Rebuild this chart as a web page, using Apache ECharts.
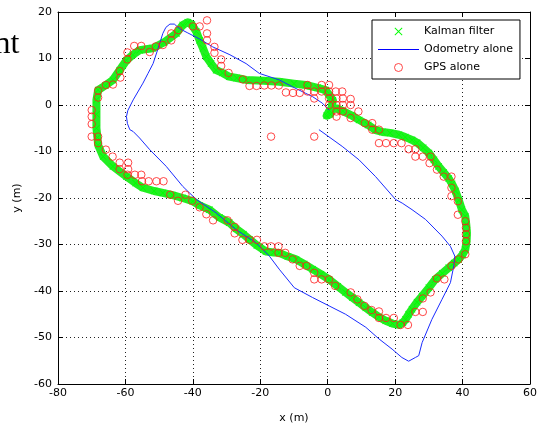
<!DOCTYPE html>
<html>
<head>
<meta charset="utf-8">
<script src="https://cdn.jsdelivr.net/npm/echarts@6/dist/echarts.min.js"></script>
<style>
html,body{margin:0;padding:0;background:#fff;}
#chart{width:540px;height:429px;}
</style>
</head>
<body>
<div id="chart"></div>
<script>
// ---- Data ----
const xTicks = [-80, -60, -40, -20, 0, 20, 40, 60];
const yTicks = [-60, -50, -40, -30, -20, -10, 0, 10, 20];
const seriesNames = ['Kalman filter', 'Odometry alone', 'GPS alone'];

const kalmanPath = [
  [1.5,1.0],[-0.6,3.2],[-3,3.7],[-6.5,4.3],[-10,4.6],[-14.4,5.0],[-19,5.2],[-24.2,5.4],
  [-27,5.8],[-29.2,6.1],[-31.2,6.9],[-33.1,7.5],[-34.6,8.9],[-36,10.4],[-37,12.2],[-38,13.9],
  [-39,15.8],[-40.3,17.3],[-41.5,17.8],[-43,17.2],[-44.9,15.4],[-48.5,13.5],[-51.9,12.2],
  [-55.8,11.8],[-57.8,10.8],[-59.7,9.6],[-61.7,7.5],[-63.7,5.4],[-66,4.2],[-68.1,3.2],
  [-68.6,1.1],[-68.6,-2],[-68.6,-5],[-68.3,-7],[-68.1,-8.6],[-66.6,-11.1],[-63.7,-13.2],
  [-59.7,-15.4],[-57,-16.8],[-54.8,-17.8],[-51.5,-18.5],[-48.9,-18.9],[-46,-19.4],[-43,-20.0],
  [-40,-20.7],[-38,-21.6],[-35.1,-22.5],[-32.1,-24.2],[-29.2,-25.3],[-27.2,-26.6],[-25,-27.8],
  [-23.2,-28.9],[-21,-30.2],[-18.3,-31.5],[-16,-31.7],[-14.4,-31.8],[-11.8,-32.6],[-9.4,-33.2],
  [-7,-34.2],[-4.5,-35.3],[-2,-36.4],[0.4,-37.5],[3,-39],[5.3,-40.3],[7.3,-41.4],[9.3,-42.5],
  [11.3,-43.6],[13.2,-44.6],[15.2,-45.6],[17.2,-46.4],[19.2,-47.0],[21.1,-47.3],[22.3,-46.8],
  [23.1,-46.1],[24,-45],[25,-43.9],[26.5,-42.4],[28,-41.1],[30,-39.3],[31.9,-37.5],[34,-36.2],
  [35.9,-35.0],[37.5,-34.0],[38.8,-33.2],[40,-32.2],[40.8,-31.1],[41.2,-29.3],[41.3,-27.5],
  [41.1,-25.7],[40.8,-23.9],[39.8,-22.5],[38.9,-20.5],[37.9,-18.5],[36.9,-17],[35.9,-15.8],
  [34.4,-14.5],[32.9,-13.2],[31.5,-11.8],[30,-10.3],[28.3,-9.2],[26.5,-8.1],[25,-7.5],
  [23,-6.9],[21.1,-6.4],[18.5,-6.0],[16.2,-5.8],[14.2,-5.4],[12,-4.3],[9.3,-3.2],[7,-2.2],
  [4.5,-1.3],[2.5,-0.7],[0.5,-1.2],[-0.3,-2.3],[0.8,-2.0],[1.5,1.0]
];

const odometryPath = [
  [0.4,-1.1],[-1.6,0.4],[-4.5,1.8],[-6.5,2.5],[-10.4,3.9],[-14.4,5.4],[-20.3,6.8],[-24.2,8.9],
  [-29,10.8],[-34.1,12.5],[-38,14.2],[-41.5,15.5],[-43.9,16.4],[-45.5,17.4],[-46.8,17.4],
  [-48,16.7],[-48.9,15.4],[-50.3,12.2],[-51.8,8.9],[-53.3,6.8],[-54.8,4.7],[-57.7,1.1],
  [-59.3,-1.2],[-59.7,-2.5],[-59.4,-4],[-58.7,-5.3],[-57.7,-5.7],[-55.8,-7.1],[-52.8,-9.6],
  [-47.9,-13.2],[-43,-17.5],[-39,-20.3],[-33.1,-23.2],[-27.2,-26.8],[-21.3,-29.6],[-17.3,-32.5],
  [-14.4,-35.3],[-9.9,-39.3],[-4.5,-41.4],[0.4,-43.2],[5.3,-45],[11.3,-47.8],[15.2,-50.3],
  [19.1,-52.5],[22,-54.3],[24,-55.1],[26,-54.3],[27,-53.9],[28,-51.1],[30.9,-46.1],[33.9,-41.8],
  [36.4,-38.2],[37.4,-34.6],[37.7,-32.5],[36.4,-30.4],[33.9,-28.2],[29,-24.6],[25,-22.5],
  [22.1,-21.1],[20.1,-20.3],[14.2,-15.4],[9.3,-11.8],[4.3,-8.9],[-2.6,-5.3]
];

const gpsPoints = [
  [-46.4,15.4],[-44.3,16.1],[-46.4,13.9],[-48.9,12.9],[-51.0,12.6],[-52.8,11.4],[-55.3,12.7],
  [-57.4,12.7],[-59.4,11.3],[-59.4,9.8],[-61.7,7.3],[-61.5,5.9],[-63.7,4.4],[-65.8,4.3],
  [-68.1,3.1],[-68.1,1.6],[-70,-1.1],[-70,-2.5],[-70,-4.1],[-70,-6.8],[-68.1,-6.8],[-68.1,-8.2],
  [-65.8,-9.6],[-63.8,-11.1],[-61.7,-12.4],[-59.2,-12.4],[-61.7,-13.8],[-59.2,-13.8],[-59.4,-15],
  [-57.2,-15],[-55.3,-15],[-55.1,-16.4],[-53.1,-16.4],[-50.8,-16.4],[-48.7,-16.4],[-46.7,-19.3],
  [-44.4,-20.6],[-42.2,-19.3],[-40.2,-20.6],[-38,-22],[-36,-23.5],[-34,-24.8],[-29.7,-24.8],
  [-27.6,-26.2],[-27.6,-27.6],[-25.3,-29],[-23.2,-29],[-21,-29],[-18.8,-30.4],[-16.8,-30.4],
  [-14.6,-30.4],[-14.6,-31.8],[-12.6,-31.8],[-10.4,-33.2],[-8.3,-34.6],[-6.3,-34.6],[-4,-36.1],
  [-4,-37.5],[-1.8,-37.5],[0.4,-37.5],[2.2,-38.9],[6.8,-40.3],[8.8,-41.8],[10.9,-43.2],[13,-44.1],
  [15.2,-44.4],[15.2,-45.8],[17.3,-45.8],[19.6,-45.8],[21.6,-47.3],[23.8,-47.3],[26,-44.5],
  [28.2,-44.5],[28.2,-41.6],[30.5,-40.3],[32.4,-37.3],[34.6,-37.5],[36.7,-34.6],[38.8,-33.2],
  [40.8,-32.1],[41,-29.3],[41,-27.8],[41,-26.4],[40.8,-25],[38.6,-23.6],[38.6,-20.7],[36.7,-19.6],
  [36.7,-17.8],[36.7,-15.4],[34.4,-15.4],[32.4,-13.9],[30.2,-12.5],[30.5,-11.1],[28.2,-11.1],
  [26,-11.1],[26,-9.5],[24,-9.5],[21.9,-8.2],[19.6,-8.2],[17.3,-8.2],[15.2,-8.2],[15.2,-5.3],
  [13.2,-5.3],[13.2,-3.9],[11,-3.9],[9.1,-1.4],[6.8,-2.8],[6.8,0],[6.8,1.3],[4.5,0],[4.5,-1.4],
  [4.5,1.4],[2.6,1.4],[2.6,0],[2.6,-1.4],[2.6,-2.5],[0.4,1.4],[0.4,0],[0.4,2.9],[0.4,4.3],
  [-1.8,4.3],[-1.8,2.9],[2.4,2.9],[4.3,2.9],[-4,1.4],[-4,2.9],[-6,2.9],[-6,4.3],[-8.3,2.6],
  [-10.3,2.6],[-12.4,2.7],[-14.5,4.2],[-16.7,4.2],[-18.8,4.2],[-21.1,4.1],[-23.2,4.1],
  [-25.2,5.5],[-29.4,6.9],[-31.6,8.4],[-31.6,9.8],[-33.6,11.2],[-33.6,12.5],[-35.8,13.9],
  [-35.8,15.4],[-35.8,18.2],[-38,16.9],[-40,16.9],[-16.8,-6.8],[-4,-6.8]
];

// ---- Chart ----
const FONT = '"DejaVu Sans", "Liberation Sans", Arial, sans-serif';
const X_MARK = 'path://M0,0.8L0.8,0L5,4.2L9.2,0L10,0.8L5.8,5L10,9.2L9.2,10L5,5.8L0.8,10L0,9.2L4.2,5Z';
const LINE_ICON = 'path://M0,0L40,0L40,1L0,1Z';
const GPS_RED = '#ff1a1a';

const chart = echarts.init(document.getElementById('chart'), null, {renderer: 'canvas'});

const xMin = xTicks[0], xMax = xTicks[xTicks.length - 1];
const yMin = yTicks[0], yMax = yTicks[yTicks.length - 1];
const xStep = xTicks[1] - xTicks[0];
const yStep = yTicks[1] - yTicks[0];

const axisCommon = {
  type: 'value',
  axisLine: {show: true, onZero: false, lineStyle: {color: '#000', width: 1}},
  axisTick: {show: true, inside: true, length: 5, lineStyle: {color: '#000'}},
};

const option = {
  backgroundColor: '#fff',
  animation: false,
  grid: {left: 58, right: 8, top: 12, bottom: 43, containLabel: false},
  legend: {
    orient: 'vertical',
    left: 372, top: 20,
    itemWidth: 41, itemHeight: 8, itemGap: 5,
    padding: [5, 7, 5, 6],
    borderColor: '#000', borderWidth: 1, backgroundColor: '#fff',
    selectedMode: false,
    textStyle: {fontFamily: FONT, fontSize: 11, color: '#000', lineHeight: 13},
    data: [
      {name: seriesNames[0], icon: X_MARK},
      {name: seriesNames[1], icon: LINE_ICON},
      {name: seriesNames[2], icon: 'circle',
       itemStyle: {color: '#ffffff', borderColor: GPS_RED, borderWidth: 1}}
    ]
  },
  xAxis: [
    Object.assign({}, axisCommon, {
      min: xMin, max: xMax, interval: xStep, position: 'bottom',
      axisLabel: {fontFamily: FONT, fontSize: 11, color: '#000', margin: 4},
      splitLine: {show: true, lineStyle: {color: '#222', type: [1, 3], width: 1}},
      name: 'x (m)', nameLocation: 'middle', nameGap: 29,
      nameTextStyle: {fontFamily: FONT, fontSize: 11, color: '#000'}
    }),
    Object.assign({}, axisCommon, {
      min: xMin, max: xMax, interval: xStep, position: 'top',
      axisLabel: {show: false}, splitLine: {show: false}
    })
  ],
  yAxis: [
    Object.assign({}, axisCommon, {
      min: yMin, max: yMax, interval: yStep, position: 'left',
      axisLabel: {fontFamily: FONT, fontSize: 11, color: '#000', margin: 6},
      splitLine: {show: true, lineStyle: {color: '#222', type: [1, 3], width: 1}},
      name: 'y (m)', nameLocation: 'middle', nameGap: 34,
      nameTextStyle: {fontFamily: FONT, fontSize: 11, color: '#000'}
    }),
    Object.assign({}, axisCommon, {
      min: yMin, max: yMax, interval: yStep, position: 'right',
      axisLabel: {show: false}, splitLine: {show: false}
    })
  ],
  graphic: [{
    type: 'text',
    style: {
      text: 'nt', x: 19.5, y: 44.5,
      font: '32px "Liberation Serif", "Times New Roman", serif',
      fill: '#000', align: 'right', verticalAlign: 'middle',
      textAlign: 'right', textVerticalAlign: 'middle'
    }
  }],
  series: [
    {
      name: seriesNames[0], type: 'line', xAxisIndex: 0, yAxisIndex: 0,
      data: kalmanPath,
      symbol: X_MARK, symbolSize: 7, showSymbol: true, symbolKeepAspect: true,
      itemStyle: {color: '#00ff00'},
      lineStyle: {color: '#22ee22', width: 8, join: 'round', cap: 'round'},
      emphasis: {disabled: true}, silent: true, z: 2
    },
    {
      name: seriesNames[1], type: 'line', xAxisIndex: 0, yAxisIndex: 0,
      data: odometryPath,
      symbol: 'none', showSymbol: false,
      itemStyle: {color: '#0000ff'},
      lineStyle: {color: '#1a2cff', width: 1},
      emphasis: {disabled: true}, silent: true, z: 3
    },
    {
      name: seriesNames[2], type: 'scatter', xAxisIndex: 0, yAxisIndex: 0,
      data: gpsPoints,
      symbol: 'circle', symbolSize: 7.5,
      itemStyle: {color: 'rgba(0,0,0,0)', borderColor: GPS_RED, borderWidth: 1},
      emphasis: {disabled: true}, silent: true, z: 4
    }
  ]
};
chart.setOption(option);
</script>
</body>
</html>
